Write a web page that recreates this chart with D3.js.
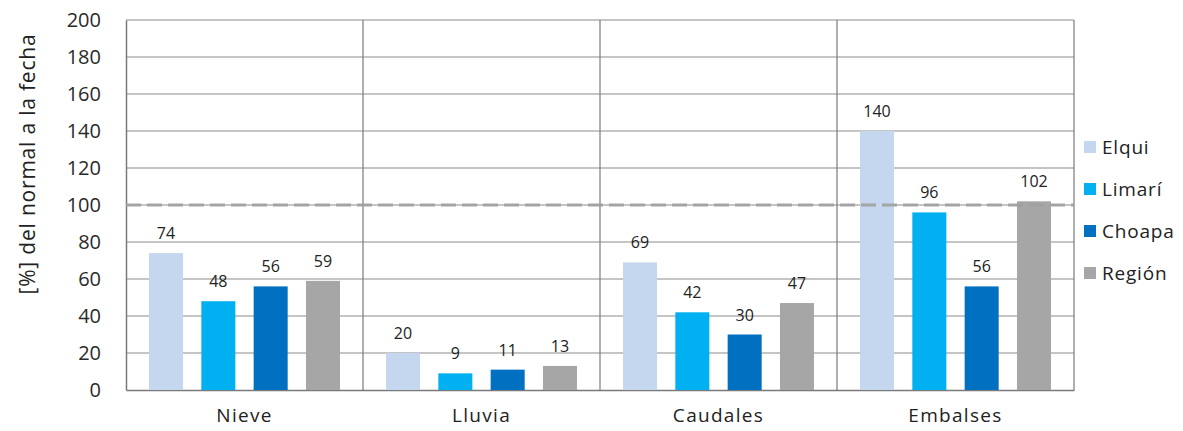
<!DOCTYPE html>
<html><head><meta charset="utf-8">
<script src="https://cdn.jsdelivr.net/npm/d3@7"></script>
<style>body{margin:0;background:#fff;} text{font-family:"Open Sans","DejaVu Sans",sans-serif;}</style>
</head><body>
<svg id="c" width="1183" height="431"></svg>
<script>
const categories = ["Nieve","Lluvia","Caudales","Embalses"];
const series = ["Elqui","Limarí","Choapa","Región"];
const elqui = [74,20,69,140];
const limari = [48,9,42,96];
const choapa = [56,11,30,56];
const region = [59,13,47,102];
const yTicks = [0,20,40,60,80,100,120,140,160,180,200];
const colors = ["#c5d7ee","#00b0f0","#0070c0","#a6a6a6"];
const values = [elqui, limari, choapa, region];

const svg = d3.select("#c");
const L = 126, R = 1074, T = 20, B = 390;
const x0 = d3.scaleBand().domain(categories).range([L,R]).paddingInner(0).paddingOuter(0);
const x1 = d3.scaleBand().domain(series).range([0,x0.bandwidth()]).paddingInner(0.35).paddingOuter(0.44);
const y = d3.scaleLinear().domain([0,200]).range([B,T]);

// gridlines
svg.append("g").selectAll("line").data(yTicks.filter(d=>d>0)).join("line")
  .attr("x1",L).attr("x2",R).attr("y1",d=>y(d)).attr("y2",d=>y(d))
  .attr("stroke","#8c8c8c").attr("stroke-width",1.2);
// vertical separators
svg.append("g").selectAll("line").data(categories).join("line")
  .attr("x1",d=>x0(d)+x0.bandwidth()).attr("x2",d=>x0(d)+x0.bandwidth())
  .attr("y1",T).attr("y2",B).attr("stroke","#7a7a7a").attr("stroke-width",1.2);
// y axis
const ya = svg.append("g").attr("transform",`translate(${L},0)`)
  .call(d3.axisLeft(y).tickValues(yTicks).tickSize(0).tickPadding(25));
ya.select(".domain").attr("stroke","#7a7a7a").attr("stroke-width",1.5);
ya.selectAll("text").attr("font-size",20).attr("fill","#2a2a2a").style("font-family","'Open Sans',sans-serif");
// x axis
const xa = svg.append("g").attr("transform",`translate(0,${B})`)
  .call(d3.axisBottom(x0).tickSize(0).tickPadding(19));
xa.select(".domain").attr("stroke","#7a7a7a").attr("stroke-width",1.5);
xa.selectAll("text").attr("font-size",19).attr("letter-spacing",1.3).attr("fill","#222").style("font-family","'Open Sans',sans-serif");

// bars
const rows = [];
categories.forEach((c,i)=>series.forEach((s,j)=>rows.push({c,s,j,v:values[j][i]})));
const g = svg.append("g");
g.selectAll("rect").data(rows).join("rect")
  .attr("x",d=>x0(d.c)+x1(d.s)).attr("width",x1.bandwidth())
  .attr("y",d=>y(d.v)).attr("height",d=>B-y(d.v))
  .attr("fill",d=>colors[d.j]);
g.selectAll("text").data(rows).join("text")
  .attr("x",d=>x0(d.c)+x1(d.s)+x1.bandwidth()/2).attr("y",d=>y(d.v)-14)
  .attr("text-anchor","middle").attr("font-size",16).attr("fill","#222")
  .text(d=>d.v);

// dashed 100% line
svg.append("line").attr("x1",L).attr("x2",R).attr("y1",y(100)).attr("y2",y(100))
  .attr("stroke","#a0a0a0").attr("stroke-width",3).attr("stroke-dasharray","15,6").attr("opacity",0.9);

// y title
svg.append("text").attr("transform",`translate(27,164) rotate(-90)`)
  .attr("text-anchor","middle").attr("dominant-baseline","central").attr("font-size",21)
  .attr("letter-spacing",0.8).attr("fill","#222")
  .text("[%] del normal a la fecha");

// legend
const lg = svg.append("g");
const ly = [147,189,231,273];
series.forEach((s,i)=>{
  lg.append("rect").attr("x",1084).attr("y",ly[i]-6).attr("width",12).attr("height",12).attr("fill",colors[i]);
  lg.append("text").attr("x",1102).attr("y",ly[i]+7).attr("font-size",19).attr("letter-spacing",0.8).attr("fill","#222").text(s);
});
</script>
</body></html>
